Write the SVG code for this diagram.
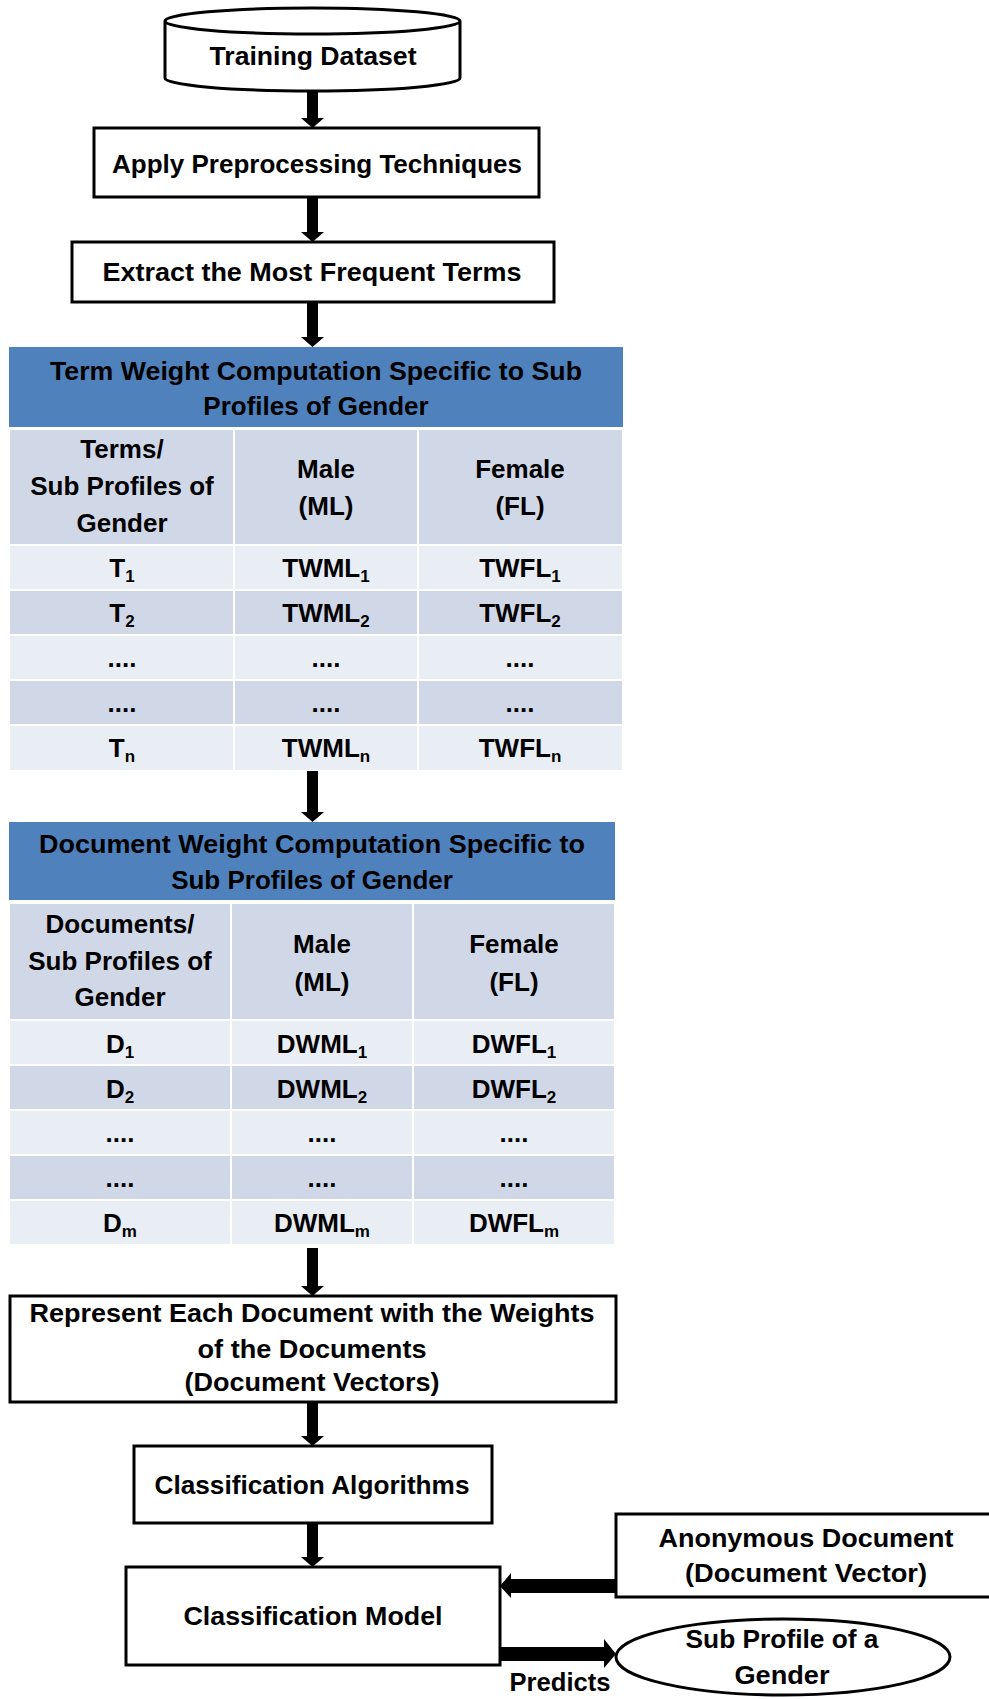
<svg xmlns="http://www.w3.org/2000/svg" width="989" height="1699" viewBox="0 0 989 1699">
<defs>
<style>
text{font-family:"Liberation Sans",Arial,sans-serif;font-weight:bold;font-size:26px;fill:#000;text-anchor:middle}
.box{fill:#fff;stroke:#000;stroke-width:3}
.hdr{fill:#4F81BD}
.dk{fill:#D0D8E8;stroke:#fff;stroke-width:2}
.lt{fill:#E9EDF4;stroke:#fff;stroke-width:2}
.sub{font-size:17px}
.arr{fill:#000}
</style>
</defs>
<rect width="989" height="1699" fill="#fff"/>

<g id="training-dataset">
<path class="box" d="M165,21 L165,78 A147.5,13 0 0 0 460,78 L460,21 A147.5,13 0 0 0 165,21 A147.5,13 0 0 0 460,21"/>
<text x="313" y="65" textLength="207" lengthAdjust="spacingAndGlyphs">Training Dataset</text>
</g>

<g id="apply-preprocessing">
<rect class="box" x="94" y="128" width="445" height="69"/>
<text x="317" y="173" textLength="410" lengthAdjust="spacingAndGlyphs">Apply Preprocessing Techniques</text>
</g>

<g id="extract-terms">
<rect class="box" x="72" y="242" width="482" height="60"/>
<text x="312" y="281" textLength="419" lengthAdjust="spacingAndGlyphs">Extract the Most Frequent Terms</text>
</g>

<g id="term-weight-table">
<rect class="hdr" x="9" y="347" width="614" height="80"/>
<text x="316" y="380" textLength="532" lengthAdjust="spacingAndGlyphs">Term Weight Computation Specific to Sub</text>
<text x="316" y="415">Profiles of Gender</text>
<rect class="dk" x="9" y="429" width="225" height="116"/>
<rect class="dk" x="234" y="429" width="184" height="116"/>
<rect class="dk" x="418" y="429" width="205" height="116"/>
<rect class="lt" x="9" y="545" width="225" height="45"/>
<rect class="lt" x="234" y="545" width="184" height="45"/>
<rect class="lt" x="418" y="545" width="205" height="45"/>
<rect class="dk" x="9" y="590" width="225" height="45"/>
<rect class="dk" x="234" y="590" width="184" height="45"/>
<rect class="dk" x="418" y="590" width="205" height="45"/>
<rect class="lt" x="9" y="635" width="225" height="45"/>
<rect class="lt" x="234" y="635" width="184" height="45"/>
<rect class="lt" x="418" y="635" width="205" height="45"/>
<rect class="dk" x="9" y="680" width="225" height="45"/>
<rect class="dk" x="234" y="680" width="184" height="45"/>
<rect class="dk" x="418" y="680" width="205" height="45"/>
<rect class="lt" x="9" y="725" width="225" height="46"/>
<rect class="lt" x="234" y="725" width="184" height="46"/>
<rect class="lt" x="418" y="725" width="205" height="46"/>
<text x="122" y="458">Terms/</text>
<text x="122" y="495">Sub Profiles of</text>
<text x="122" y="532">Gender</text>
<text x="326" y="478">Male</text>
<text x="326" y="515">(ML)</text>
<text x="520" y="478">Female</text>
<text x="520" y="515">(FL)</text>
<text x="122" y="577">T<tspan class="sub" dy="5">1</tspan></text>
<text x="326" y="577">TWML<tspan class="sub" dy="5">1</tspan></text>
<text x="520" y="577">TWFL<tspan class="sub" dy="5">1</tspan></text>
<text x="122" y="622">T<tspan class="sub" dy="5">2</tspan></text>
<text x="326" y="622">TWML<tspan class="sub" dy="5">2</tspan></text>
<text x="520" y="622">TWFL<tspan class="sub" dy="5">2</tspan></text>
<text x="122" y="667">....</text>
<text x="326" y="667">....</text>
<text x="520" y="667">....</text>
<text x="122" y="712">....</text>
<text x="326" y="712">....</text>
<text x="520" y="712">....</text>
<text x="122" y="757">T<tspan class="sub" dy="5">n</tspan></text>
<text x="326" y="757">TWML<tspan class="sub" dy="5">n</tspan></text>
<text x="520" y="757">TWFL<tspan class="sub" dy="5">n</tspan></text>
</g>

<g id="document-weight-table">
<rect class="hdr" x="9" y="822" width="606" height="78"/>
<text x="312" y="853" textLength="546" lengthAdjust="spacingAndGlyphs">Document Weight Computation Specific to</text>
<text x="312" y="889">Sub Profiles of Gender</text>
<rect class="dk" x="9" y="903" width="222" height="117"/>
<rect class="dk" x="231" y="903" width="182" height="117"/>
<rect class="dk" x="413" y="903" width="202" height="117"/>
<rect class="lt" x="9" y="1020" width="222" height="45"/>
<rect class="lt" x="231" y="1020" width="182" height="45"/>
<rect class="lt" x="413" y="1020" width="202" height="45"/>
<rect class="dk" x="9" y="1065" width="222" height="45"/>
<rect class="dk" x="231" y="1065" width="182" height="45"/>
<rect class="dk" x="413" y="1065" width="202" height="45"/>
<rect class="lt" x="9" y="1110" width="222" height="45"/>
<rect class="lt" x="231" y="1110" width="182" height="45"/>
<rect class="lt" x="413" y="1110" width="202" height="45"/>
<rect class="dk" x="9" y="1155" width="222" height="45"/>
<rect class="dk" x="231" y="1155" width="182" height="45"/>
<rect class="dk" x="413" y="1155" width="202" height="45"/>
<rect class="lt" x="9" y="1200" width="222" height="45"/>
<rect class="lt" x="231" y="1200" width="182" height="45"/>
<rect class="lt" x="413" y="1200" width="202" height="45"/>
<text x="120" y="933">Documents/</text>
<text x="120" y="970">Sub Profiles of</text>
<text x="120" y="1006">Gender</text>
<text x="322" y="953">Male</text>
<text x="322" y="991">(ML)</text>
<text x="514" y="953">Female</text>
<text x="514" y="991">(FL)</text>
<text x="120" y="1053">D<tspan class="sub" dy="5">1</tspan></text>
<text x="322" y="1053">DWML<tspan class="sub" dy="5">1</tspan></text>
<text x="514" y="1053">DWFL<tspan class="sub" dy="5">1</tspan></text>
<text x="120" y="1098">D<tspan class="sub" dy="5">2</tspan></text>
<text x="322" y="1098">DWML<tspan class="sub" dy="5">2</tspan></text>
<text x="514" y="1098">DWFL<tspan class="sub" dy="5">2</tspan></text>
<text x="120" y="1142">....</text>
<text x="322" y="1142">....</text>
<text x="514" y="1142">....</text>
<text x="120" y="1187">....</text>
<text x="322" y="1187">....</text>
<text x="514" y="1187">....</text>
<text x="120" y="1232">D<tspan class="sub" dy="5">m</tspan></text>
<text x="322" y="1232">DWML<tspan class="sub" dy="5">m</tspan></text>
<text x="514" y="1232">DWFL<tspan class="sub" dy="5">m</tspan></text>
</g>

<g id="represent-documents">
<rect class="box" x="10" y="1296" width="606" height="106"/>
<text x="312" y="1322" textLength="565" lengthAdjust="spacingAndGlyphs">Represent Each Document with the Weights</text>
<text x="312" y="1358" textLength="229" lengthAdjust="spacingAndGlyphs">of the Documents</text>
<text x="312" y="1391" textLength="255" lengthAdjust="spacingAndGlyphs">(Document Vectors)</text>
</g>

<g id="classification-algorithms">
<rect class="box" x="134" y="1446" width="358" height="77"/>
<text x="312" y="1494" textLength="315" lengthAdjust="spacingAndGlyphs">Classification Algorithms</text>
</g>

<g id="classification-model">
<rect class="box" x="126" y="1567" width="374" height="98"/>
<text x="313" y="1625" textLength="259" lengthAdjust="spacingAndGlyphs">Classification Model</text>
</g>

<g id="anonymous-document">
<rect class="box" x="616" y="1514" width="376" height="83"/>
<text x="806" y="1547" textLength="295" lengthAdjust="spacingAndGlyphs">Anonymous Document</text>
<text x="806" y="1582" textLength="242" lengthAdjust="spacingAndGlyphs">(Document Vector)</text>
</g>

<g id="sub-profile">
<ellipse cx="783" cy="1657" rx="167" ry="38" fill="#fff" stroke="#000" stroke-width="3"/>
<text x="782" y="1648" textLength="193" lengthAdjust="spacingAndGlyphs">Sub Profile of a</text>
<text x="782" y="1684" textLength="95" lengthAdjust="spacingAndGlyphs">Gender</text>
</g>

<g id="connectors">
<path class="arr" d="M307,91 H318 V118 H324 L312.5,128 L301,118 H307 Z"/>
<path class="arr" d="M307,197 H318 V232 H324 L312.5,242 L301,232 H307 Z"/>
<path class="arr" d="M307,302 H318 V337 H324 L312.5,347 L301,337 H307 Z"/>
<path class="arr" d="M307,771 H318 V812 H324 L312.5,822 L301,812 H307 Z"/>
<path class="arr" d="M307,1248 H318 V1286 H324 L312.5,1296 L301,1286 H307 Z"/>
<path class="arr" d="M307,1402 H318 V1436 H324 L312.5,1446 L301,1436 H307 Z"/>
<path class="arr" d="M307,1523 H318 V1557 H324 L312.5,1567 L301,1557 H307 Z"/>
<path class="arr" d="M616,1579 V1593 H511 V1598 L500,1586 L511,1573 V1579 Z"/>
<path class="arr" d="M500,1647 H604 V1639 L616,1654 L604,1668 V1661 H500 Z"/>
<text x="560" y="1691" font-size="25" textLength="101" lengthAdjust="spacingAndGlyphs">Predicts</text>
</g>
</svg>
